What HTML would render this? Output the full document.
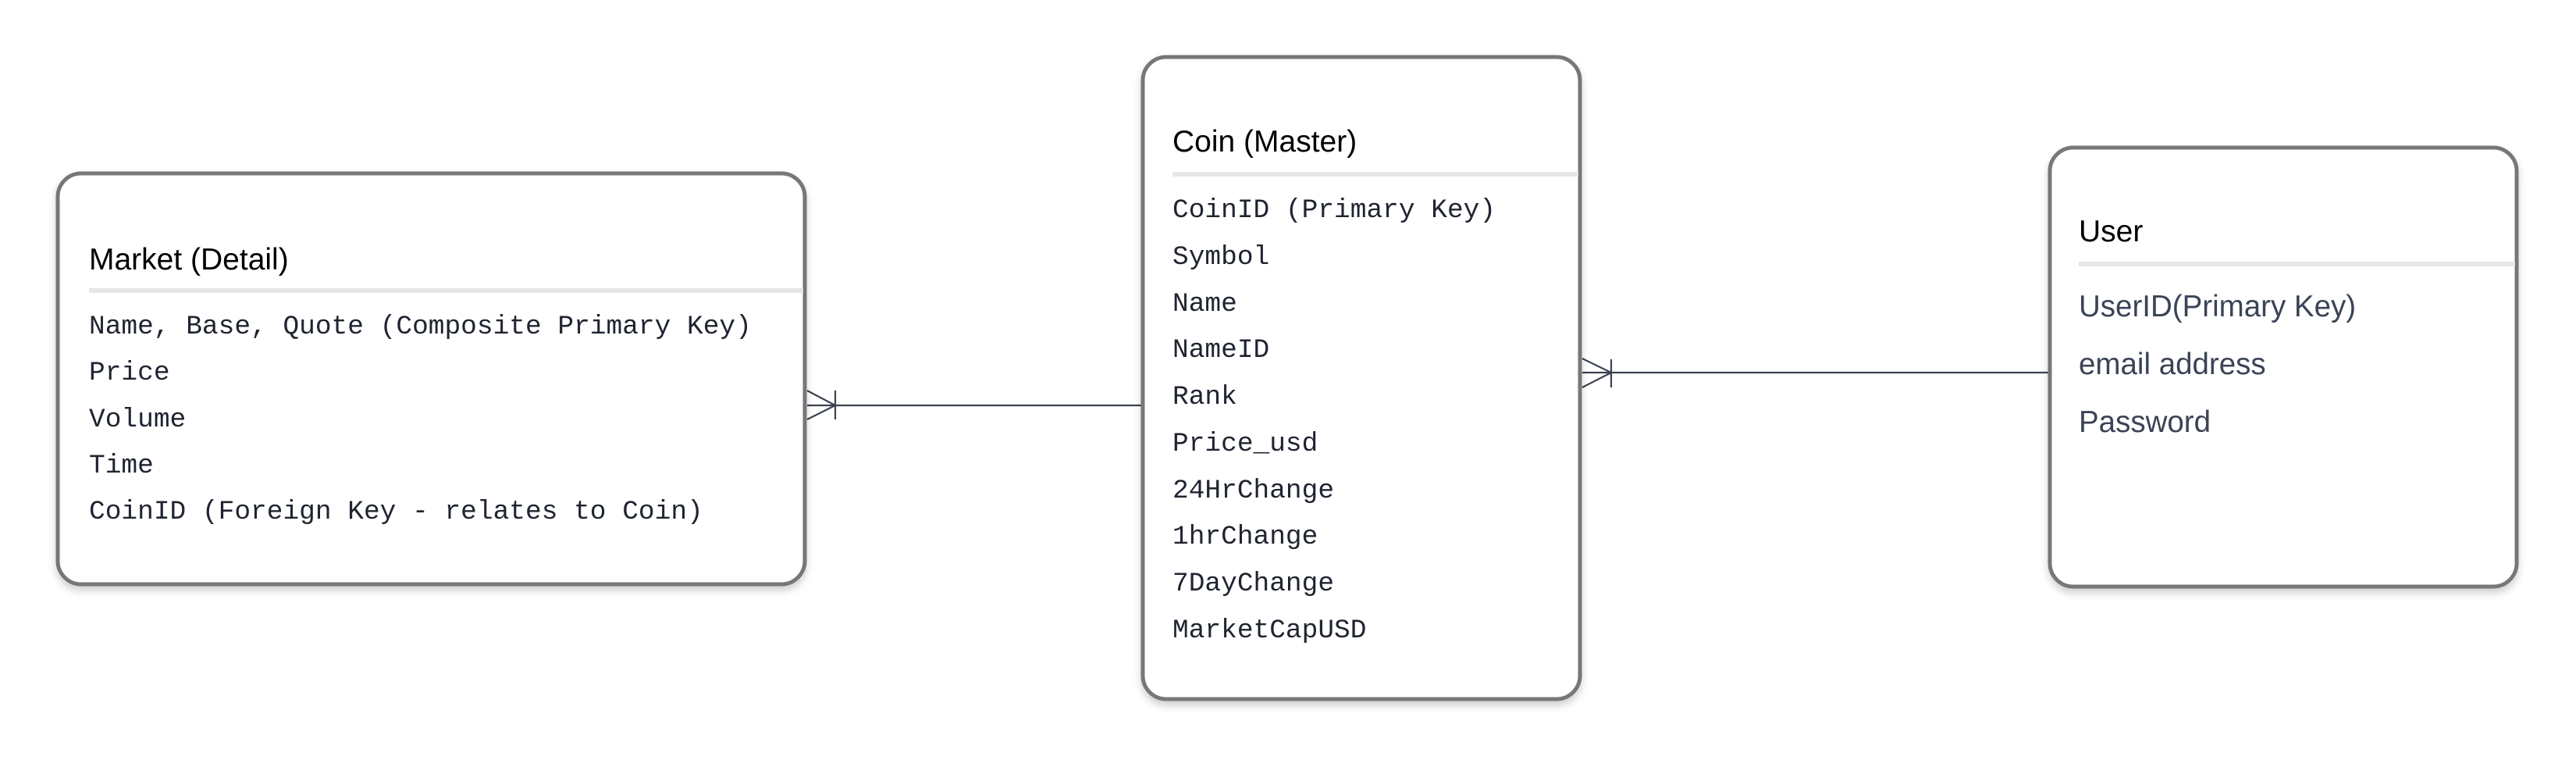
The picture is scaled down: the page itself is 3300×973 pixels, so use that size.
<!DOCTYPE html>
<html><head><meta charset="utf-8"><style>
html,body{margin:0;padding:0;background:#fff;}
svg{display:block;}
.t{font-family:"Liberation Sans",sans-serif;font-size:39px;fill:#000;}
.m{font-family:"Liberation Mono",monospace;font-size:34.5px;fill:#1f2430;}
.u{font-family:"Liberation Sans",sans-serif;font-size:38.5px;fill:#3b4456;}
</style></head><body>
<svg width="3300" height="973" viewBox="0 0 3300 973" xmlns="http://www.w3.org/2000/svg">
<defs>
<filter id="sh" x="-10%" y="-10%" width="120%" height="125%">
<feDropShadow dx="0" dy="6" stdDeviation="5" flood-color="#000" flood-opacity="0.18"/>
</filter>
</defs>
<!-- connectors -->
<g stroke="#3a4150" stroke-width="2.2" fill="none">
<line x1="1034" y1="519" x2="1462" y2="519"/>
<polyline points="1034,500 1070,519 1034,537"/>
<line x1="1070" y1="500" x2="1070" y2="537"/>
<line x1="2027" y1="477" x2="2625" y2="477"/>
<polyline points="2027,459 2064,477 2027,496"/>
<line x1="2064" y1="460" x2="2064" y2="496"/>
</g>
<!-- Market -->
<rect x="74" y="222" width="957" height="526" rx="30" fill="#fff" stroke="#777" stroke-width="5" filter="url(#sh)"/>
<text class="t" x="114" y="345">Market (Detail)</text>
<rect x="114" y="369" width="915" height="6" fill="#e6e6e6"/>
<text class="m" x="114" y="427">Name, Base, Quote (Composite Primary Key)</text>
<text class="m" x="114" y="486">Price</text>
<text class="m" x="114" y="546">Volume</text>
<text class="m" x="114" y="605">Time</text>
<text class="m" x="114" y="664">CoinID (Foreign Key - relates to Coin)</text>
<!-- Coin -->
<rect x="1464" y="73" width="560" height="822" rx="30" fill="#fff" stroke="#777" stroke-width="5" filter="url(#sh)"/>
<text class="t" x="1502" y="194">Coin (Master)</text>
<rect x="1502" y="220" width="520" height="6" fill="#e6e6e6"/>
<text class="m" x="1502" y="278">CoinID (Primary Key)</text>
<text class="m" x="1502" y="338">Symbol</text>
<text class="m" x="1502" y="398">Name</text>
<text class="m" x="1502" y="457">NameID</text>
<text class="m" x="1502" y="517">Rank</text>
<text class="m" x="1502" y="577">Price_usd</text>
<text class="m" x="1502" y="637">24HrChange</text>
<text class="m" x="1502" y="696">1hrChange</text>
<text class="m" x="1502" y="756">7DayChange</text>
<text class="m" x="1502" y="816">MarketCapUSD</text>
<!-- User -->
<rect x="2626" y="189" width="598" height="562" rx="30" fill="#fff" stroke="#777" stroke-width="5" filter="url(#sh)"/>
<text class="t" x="2663" y="309">User</text>
<rect x="2663" y="335" width="559" height="6" fill="#e6e6e6"/>
<text class="u" x="2663" y="405">UserID(Primary Key)</text>
<text class="u" x="2663" y="479">email address</text>
<text class="u" x="2663" y="553">Password</text>
</svg>
</body></html>
